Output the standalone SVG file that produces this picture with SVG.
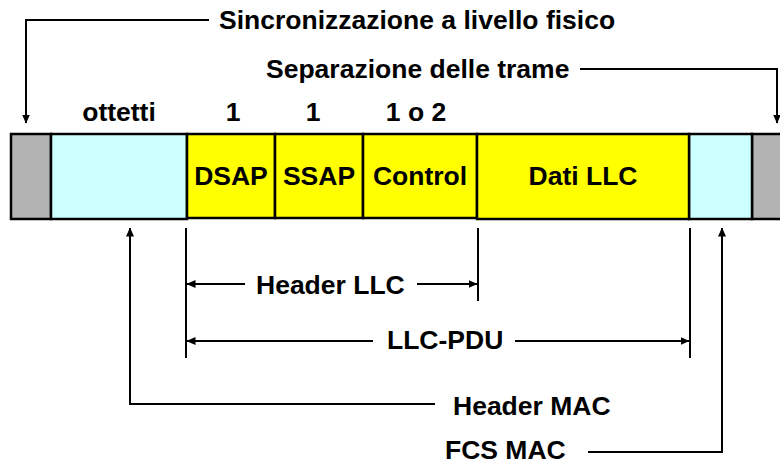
<svg xmlns="http://www.w3.org/2000/svg" width="780" height="466" viewBox="0 0 780 466">
  <style>
    .t { font-family: "Liberation Sans", Arial, sans-serif; font-weight: bold; font-size: 26.5px; fill: #000; }
    .c { text-anchor: middle; }
    .cell { stroke: #000; stroke-width: 2.5; }
    .gray { fill: #b3b3b3; }
    .cyan { fill: #ccffff; }
    .yel { fill: #ffff00; }
    .ln { fill: none; stroke: #000; stroke-width: 2; }
  </style>
  <defs>
    <marker id="ah" markerWidth="9" markerHeight="8" refX="8.5" refY="4" orient="auto" markerUnits="userSpaceOnUse">
      <path d="M0,0 L9,4 L0,8 Z" fill="#000"/>
    </marker>
  </defs>
  <rect width="780" height="466" fill="#fff"/>

  <!-- frame cells -->
  <g id="frame">
    <rect class="cell gray" x="11" y="134" width="40" height="85"/>
    <rect class="cell cyan" x="51" y="134" width="136" height="85"/>
    <rect class="cell gray" x="752" y="134" width="40" height="85"/>
    <rect class="cell cyan" x="689" y="134" width="63" height="85"/>
  </g>
  <g id="dsap">
    <rect class="cell yel" x="187" y="134" width="88" height="84"/>
    <text class="t c" x="231" y="185">DSAP</text>
  </g>
  <g id="ssap">
    <rect class="cell yel" x="275" y="134" width="88" height="84"/>
    <text class="t c" x="319" y="185">SSAP</text>
  </g>
  <g id="control">
    <rect class="cell yel" x="363" y="134" width="114" height="84"/>
    <text class="t c" x="420" y="185">Control</text>
  </g>
  <g id="dati">
    <rect class="cell yel" x="477" y="134" width="212" height="85"/>
    <text class="t c" x="583" y="185">Dati LLC</text>
  </g>

  <!-- octet counts -->
  <g id="sizes">
    <text class="t c" x="119" y="121">ottetti</text>
    <text class="t c" x="233" y="121">1</text>
    <text class="t c" x="313" y="121">1</text>
    <text class="t c" x="416" y="121">1 o 2</text>
  </g>

  <g id="labels">
    <text class="t" x="219" y="29">Sincronizzazione a livello fisico</text>
    <text class="t" x="266" y="78">Separazione delle trame</text>
    <text class="t" x="256" y="294">Header LLC</text>
    <text class="t" x="387" y="349">LLC-PDU</text>
    <text class="t" x="453" y="415">Header MAC</text>
    <text class="t" x="445" y="459">FCS MAC</text>
  </g>

  <g id="connectors">
    <!-- synchronisation -->
    <polyline class="ln" points="209,20 26,20 26,123" marker-end="url(#ah)"/>
    <!-- frame delimiter -->
    <polyline class="ln" points="580,69 777,69 777,123" marker-end="url(#ah)"/>
    <!-- extension ticks -->
    <line class="ln" x1="186" y1="228" x2="186" y2="358"/>
    <line class="ln" x1="478" y1="228" x2="478" y2="301"/>
    <line class="ln" x1="690" y1="228" x2="690" y2="358"/>
    <!-- Header LLC span -->
    <line class="ln" x1="245" y1="284" x2="187" y2="284" marker-end="url(#ah)"/>
    <line class="ln" x1="417" y1="284" x2="477" y2="284" marker-end="url(#ah)"/>
    <!-- LLC-PDU span -->
    <line class="ln" x1="373" y1="341" x2="187" y2="341" marker-end="url(#ah)"/>
    <line class="ln" x1="515" y1="341" x2="689" y2="341" marker-end="url(#ah)"/>
    <!-- Header MAC -->
    <polyline class="ln" points="435,404 130,404 130,228" marker-end="url(#ah)"/>
    <!-- FCS MAC -->
    <polyline class="ln" points="588,452 722,452 722,228" marker-end="url(#ah)"/>
  </g>
</svg>
